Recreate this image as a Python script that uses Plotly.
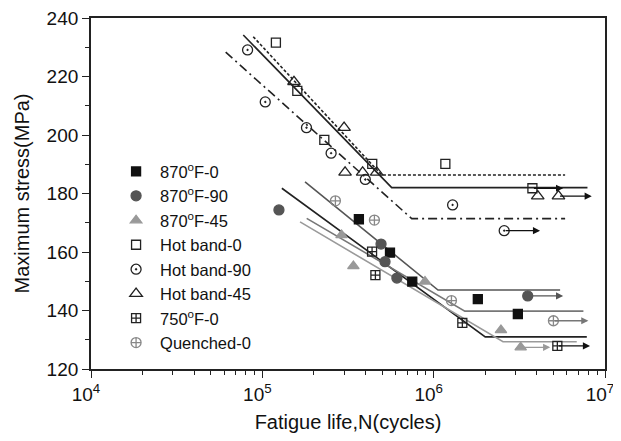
import math
import plotly.graph_objects as go

# ---------------- data ----------------
s870_0_N = [3.66e5, 5.56e5, 7.5e5, 1.81e6, 3.1e6]
s870_0_S = [171.2, 159.8, 149.9, 143.9, 138.8]

s870_90_N = [1.25e5, 4.93e5, 5.2e5, 6.1e5, 3.54e6]
s870_90_S = [174.4, 162.7, 156.7, 151.1, 145.0]

s870_45_N = [2.9e5, 3.4e5, 8.9e5, 2.47e6, 3.22e6]
s870_45_S = [165.8, 155.2, 149.9, 133.3, 127.4]

hb0_N = [1.20e5, 1.60e5, 2.30e5, 4.38e5, 1.17e6, 3.77e6]
hb0_S = [231.6, 215.1, 198.3, 190.1, 190.1, 181.8]

hb90_N = [8.2e4, 1.04e5, 1.81e5, 2.52e5, 3.99e5, 1.29e6, 2.58e6]
hb90_S = [229.1, 211.3, 202.5, 193.8, 184.8, 176.1, 167.3]

hb45_N = [1.53e5, 3.0e5, 3.04e5, 3.85e5, 4.65e5, 4.05e6, 5.35e6]
hb45_S = [218.2, 202.5, 187.2, 187.2, 187.2, 179.1, 179.1]

s750_N = [4.37e5, 4.57e5, 1.47e6, 5.27e6]
s750_S = [160.1, 152.1, 135.8, 127.9]

q_N = [2.67e5, 4.51e5, 1.27e6, 5.0e6]
q_S = [177.5, 170.9, 143.4, 136.5]

# fitted S-N lines (start, knee, end)
hb_solid_N = [7.74e4, 5.69e5, 7.9e6]
hb_solid_S = [234.2, 182.0, 182.0]
hb_dot_N = [8.85e4, 4.98e5, 5.85e6]
hb_dot_S = [233.6, 186.3, 186.3]
hb_dashdot_N = [6.11e4, 7.45e5, 5.85e6]
hb_dashdot_S = [228.3, 171.4, 171.4]

l90_N = [1.775e5, 1.06e6, 5.47e6]
l90_S = [184.0, 147.0, 147.0]
l750_N = [1.30e5, 2.0e6, 7.83e6]
l750_S = [181.8, 131.0, 131.0]
lq_N = [1.815e5, 1.52e6, 7.48e6]
lq_S = [171.5, 139.8, 139.8]
l45_N = [1.66e5, 2.54e6, 6.84e6]
l45_S = [170.3, 129.3, 129.3]

# run-out arrows: start N, end N, stress, colour
arrow_start = [2.58e6, 3.77e6, 5.35e6, 3.54e6, 5.0e6, 3.22e6, 5.27e6]
arrow_end = [4.18e6, 5.7e6, 8.37e6, 5.7e6, 8.0e6, 4.79e6, 8.18e6]
arrow_S = [167.3, 181.8, 179.1, 145.0, 136.5, 127.4, 127.9]
arrow_col = ["#111", "#111", "#111", "#555", "#777", "#999", "#111"]

x_major = [1e4, 1e5, 1e6, 1e7]
x_major_text = ["10<sup>4</sup>", "10<sup>5</sup>", "10<sup>6</sup>", "10<sup>7</sup>"]

# ---------------- figure ----------------
fig = go.Figure()

def add_line(N, S, color, dash="solid", width=1.6):
    fig.add_trace(go.Scatter(x=N, y=S, mode="lines", showlegend=False, hoverinfo="skip",
                             line=dict(color=color, width=width, dash=dash)))

add_line(hb_solid_N, hb_solid_S, "#222")
add_line(hb_dot_N, hb_dot_S, "#222", dash="3px,2px")
add_line(hb_dashdot_N, hb_dashdot_S, "#222", dash="9px,4px,2px,4px")
add_line(l90_N, l90_S, "#555")
add_line(l750_N, l750_S, "#222")
add_line(lq_N, lq_S, "#777")
add_line(l45_N, l45_S, "#9a9a9a")

def add_pts(N, S, name, symbol, color, size=9, lw=1.3):
    fig.add_trace(go.Scatter(x=N, y=S, mode="markers", name=name, legendgroup=name,
                             marker=dict(symbol=symbol, size=size, color=color,
                                         line=dict(color=color, width=lw))))

add_pts(s870_0_N, s870_0_S, "870<sup>o</sup>F-0", "square", "#111", size=9)
add_pts(s870_90_N, s870_90_S, "870<sup>o</sup>F-90", "circle", "#555", size=10)
add_pts(s870_45_N, s870_45_S, "870<sup>o</sup>F-45", "triangle-up", "#999", size=10)
add_pts(hb0_N, hb0_S, "Hot band-0", "square-open", "#222", size=9)
add_pts(hb90_N, hb90_S, "Hot band-90", "circle-open-dot", "#222", size=10)
add_pts(hb45_N, hb45_S, "Hot band-45", "triangle-up-open", "#222", size=11)
add_pts(s750_N, s750_S, "750<sup>o</sup>F-0", "square-cross-open", "#222", size=9)
add_pts(q_N, q_S, "Quenched-0", "circle-cross-open", "#888", size=10)

for n0, n1, s, c in zip(arrow_start, arrow_end, arrow_S, arrow_col):
    fig.add_annotation(x=math.log10(n1), y=s, ax=math.log10(n0), ay=s,
                       xref="x", yref="y", axref="x", ayref="y", text="",
                       showarrow=True, arrowhead=2, arrowsize=1.1, arrowwidth=1.3,
                       arrowcolor=c)

font = "Liberation Sans, Arial, sans-serif"
fig.update_layout(
    width=613, height=425,
    margin=dict(l=83, r=16, t=10, b=64, autoexpand=False),
    plot_bgcolor="white", paper_bgcolor="white",
    font=dict(family=font, size=17, color="#111"),
    showlegend=True,
    legend=dict(x=0.041, y=0.612, xanchor="left", yanchor="top",
                bgcolor="rgba(0,0,0,0)", font=dict(size=16.5, family=font),
                tracegroupgap=0, itemwidth=38),
)
fig.update_xaxes(
    type="log", range=[4, 7], automargin=False, ticklabeloverflow="allow",
    ticklabelshift=-5,
    tickvals=x_major, ticktext=x_major_text,
    ticks="outside", ticklen=7, tickwidth=1.3, tickcolor="#222",
    minor=dict(tickvals=[m * 10 ** e for e in (4, 5, 6) for m in range(2, 10)],
               ticks="outside", ticklen=4, tickwidth=1.2, tickcolor="#222"),
    showline=True, linecolor="#222", linewidth=1.8, mirror=True,
    showgrid=False, zeroline=False,
    tickfont=dict(size=19, family=font),
    title=dict(text="Fatigue life,N(cycles)", font=dict(size=20, family=font), standoff=15),
)
fig.update_yaxes(
    range=[120, 240], dtick=20, tick0=120, automargin=False, ticklabeloverflow="allow",
    ticks="outside", ticklen=7, tickwidth=1.3, tickcolor="#222",
    minor=dict(dtick=10, ticks="outside", ticklen=4, tickwidth=1.2, tickcolor="#222"),
    showline=True, linecolor="#222", linewidth=1.8, mirror=True,
    showgrid=False, zeroline=False,
    tickfont=dict(size=19, family=font),
    title=dict(text="Maximum stress(MPa)", font=dict(size=20, family=font), standoff=12),
)

fig.write_html("out.html")
